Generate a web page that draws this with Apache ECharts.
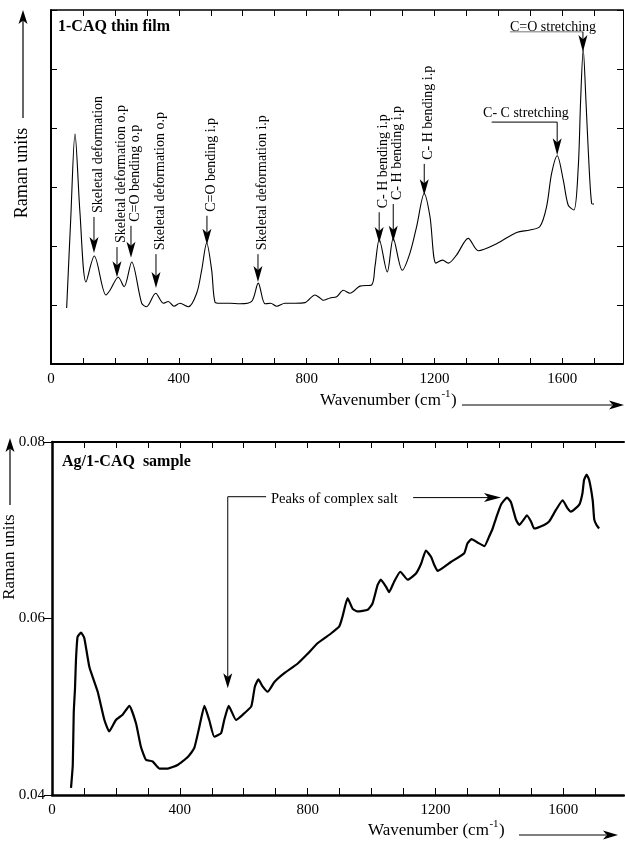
<!DOCTYPE html>
<html>
<head>
<meta charset="utf-8">
<script src="https://cdn.jsdelivr.net/npm/echarts@6/dist/echarts.min.js"></script>
<style>
  html, body { margin: 0; padding: 0; background: #fff; }
  #chart { width: 625px; height: 842px; }
</style>
</head>
<body>
<div id="chart"></div>
<script>
// 1-CAQ thin film Raman spectrum (arbitrary units)
const filmWavenumber = [49, 61.6, 75.1, 90.7, 109.5, 135.5, 172, 184.6, 210.6, 229, 252.5, 283.8, 299, 327.6,
  351.4, 367, 384.9, 403.6, 429.6, 455.9, 471.5, 487.2, 502.8, 513.1, 528.8, 560, 591.4, 628, 648.6, 669.6,
  687.4, 706.2, 732.2, 763.5, 794.7, 826, 841.7, 852, 873, 894, 914.6, 935.5, 966.8, 1003.4, 1013.8, 1027.2,
  1052.3, 1071, 1099.2, 1123.3, 1144.2, 1168, 1185.9, 1204.6, 1225.6, 1243.1, 1269.4, 1305.7, 1337, 1394.6,
  1457.1, 1498.7, 1530, 1551, 1566.6, 1584.2, 1603, 1618.6, 1636.4, 1650, 1657.4, 1665.5, 1674, 1681.2,
  1691.8, 1699];
const filmIntensity = [0.95, 2.44, 3.90, 2.56, 1.39, 1.83, 1.17, 1.25, 1.47, 1.31, 1.73, 1.03, 0.97, 1.20,
  1.03, 1.06, 0.98, 1.03, 0.97, 1.20, 1.59, 2.05, 1.59, 1.05, 1.03, 1.03, 1.02, 1.06, 1.37, 1.02,
  1.03, 0.98, 1.03, 1.03, 1.04, 1.17, 1.12, 1.08, 1.12, 1.14, 1.25, 1.20, 1.32, 1.34, 1.65, 2.11,
  1.56, 2.13, 1.59, 1.88, 2.33, 2.89, 2.50, 1.71, 1.76, 1.71, 1.85, 2.13, 1.92, 2.04,
  2.23, 2.27, 2.33, 2.67, 3.23, 3.53, 3.12, 2.69, 2.61, 3.34, 4.47, 5.33, 4.47, 3.63,
  2.72, 2.71];

// Ag/1-CAQ sample Raman spectrum
const agWavenumber = [59.5, 65, 68, 72, 75, 80, 91, 101, 117, 143, 164, 179, 200, 221, 242, 263, 278, 294,
  315, 336, 362, 393, 425, 445, 461, 477, 492, 508, 529, 539, 553, 576, 597, 623, 628, 635, 646, 659, 675,
  696, 727, 769, 800, 831, 873, 899, 909, 925, 941, 956, 988, 1003, 1019, 1029, 1045, 1055, 1071, 1090,
  1113, 1139, 1155, 1170, 1186, 1196, 1207, 1248, 1290, 1300, 1313, 1332, 1353, 1368, 1379, 1389, 1405,
  1424, 1436, 1452, 1462, 1478, 1486, 1499, 1509, 1540, 1556, 1577, 1598, 1613, 1624, 1650, 1660, 1665,
  1673, 1681, 1692, 1697, 1704, 1712];
const agIntensity = [0.0408, 0.0434, 0.0493, 0.0521, 0.0553, 0.0579, 0.0584, 0.0578, 0.0545, 0.0517, 0.0485,
  0.0472, 0.0485, 0.0491, 0.0501, 0.0481, 0.0455, 0.0440, 0.0438, 0.0430, 0.0430, 0.0434, 0.0443, 0.0453,
  0.0477, 0.0501, 0.0485, 0.0466, 0.0470, 0.0485, 0.0501, 0.0485, 0.0491, 0.0500, 0.0508, 0.0523, 0.0531,
  0.0523, 0.0517, 0.0528, 0.0538, 0.0549, 0.0560, 0.0572, 0.0583, 0.0591, 0.0602, 0.0623, 0.0611, 0.0608,
  0.0610, 0.0617, 0.0638, 0.0644, 0.0636, 0.0630, 0.0642, 0.0653, 0.0644, 0.0651, 0.0662, 0.0677, 0.0670,
  0.0661, 0.0654, 0.0664, 0.0674, 0.0685, 0.0690, 0.0686, 0.0682, 0.0693, 0.0702, 0.0713, 0.0729, 0.0737,
  0.0732, 0.0712, 0.0706, 0.0713, 0.0717, 0.0710, 0.0702, 0.0706, 0.0710, 0.0723, 0.0734, 0.0725, 0.0721,
  0.0729, 0.0742, 0.0757, 0.0763, 0.0757, 0.0734, 0.0712, 0.0706, 0.0702];

// Axis ticks and labels
const xLabelValues = [0, 400, 800, 1200, 1600];
const xTickValues = [0, 100, 200, 300, 400, 500, 600, 700, 800, 900, 1000, 1100, 1200, 1300, 1400, 1500, 1600, 1700];
const agYLabelValues = [0.04, 0.06, 0.08];

// Band assignments in the film spectrum
const filmBandWavenumber = [134.5, 206.5, 250.3, 328.5, 488, 647.7, 1027, 1071, 1168];
const filmBandTip = [1.88, 1.47, 1.80, 1.29, 2.02, 1.39, 2.05, 2.07, 2.86];
const filmBandTextStart = [2.56, 2.05, 2.41, 1.93, 2.58, 1.93, 2.64, 2.78, 3.46];
const filmBandLabel = ['Skeletal deformation', 'Skeletal deformation o.p', 'C=O bending o.p',
  'Skeletal deformation o.p', 'C=O bending i.p', 'Skeletal deformation i.p',
  'C- H bending i.p', 'C- H bending i.p', 'C- H bending i.p'];

// Stretching bands labelled horizontally
const stretchLabel = ['C- C stretching', 'C=O stretching'];
const stretchTextX = [1486, 1571];
const stretchTextY = [4.25, 5.71];
const stretchLeaderY = [4.10, 5.63];
const stretchLeaderStart = [1379, 1436];
const stretchTipX = [1584, 1664.6];
const stretchTipY = [3.54, 5.29];

// Complex salt call-out in the Ag sample
const saltLabel = 'Peaks of complex salt';
const saltLeftTip = [550, 0.0521];
const saltLeftTop = 0.0738;
const saltTextStart = 685;
const saltLeftLineEnd = 670;
const saltRightStart = 1130;
const saltRightTip = [1405, 0.0737];

const FONT = '"Liberation Serif", "Times New Roman", serif';

function zip(xs, ys) { return xs.map((x, i) => [x, ys[i]]); }

const X_MIN = 0, X_MAX = 1790;

function xAxisCfg(gridIndex, position, lineWidth, tickLen, showLabels) {
  return {
    type: 'value', gridIndex, position, min: X_MIN, max: X_MAX,
    axisLine: { show: true, onZero: false, lineStyle: { color: '#000', width: lineWidth } },
    axisTick: { show: true, inside: true, length: tickLen, customValues: xTickValues,
      lineStyle: { color: '#000', width: 1 } },
    axisLabel: showLabels ? { show: true, customValues: xLabelValues, color: '#000',
      fontFamily: FONT, fontSize: 15, margin: 8, formatter: v => String(v) } : { show: false },
    splitLine: { show: false }
  };
}

const option = {
  animation: false,
  backgroundColor: '#fff',
  grid: [
    { left: 51, top: 10, width: 572, height: 354 },
    { left: 52, top: 442, width: 572, height: 353 }
  ],
  xAxis: [
    xAxisCfg(0, 'bottom', 2, 6, true),
    xAxisCfg(0, 'top', 1.5, 6, false),
    xAxisCfg(1, 'bottom', 2.5, 7, true),
    xAxisCfg(1, 'top', 2, 6, false)
  ],
  yAxis: [
    { type: 'value', gridIndex: 0, position: 'left', min: 0, max: 6, interval: 1,
      axisLine: { show: true, onZero: false, lineStyle: { color: '#000', width: 2 } },
      axisTick: { show: true, inside: true, length: 6, lineStyle: { color: '#000' } },
      axisLabel: { show: false }, splitLine: { show: false } },
    { type: 'value', gridIndex: 0, position: 'right', min: 0, max: 6, interval: 1,
      axisLine: { show: true, onZero: false, lineStyle: { color: '#000', width: 1 } },
      axisTick: { show: true, inside: true, length: 6, lineStyle: { color: '#000' } },
      axisLabel: { show: false }, splitLine: { show: false } },
    { type: 'value', gridIndex: 1, position: 'left', min: 0.04, max: 0.08, interval: 0.02,
      axisLine: { show: true, onZero: false, lineStyle: { color: '#000', width: 2.5 } },
      axisTick: { show: true, inside: false, length: 7, lineStyle: { color: '#000' } },
      axisLabel: { show: true, color: '#000', fontFamily: FONT, fontSize: 15, margin: 7,
        customValues: agYLabelValues, formatter: v => v.toFixed(2) },
      splitLine: { show: false } },
    { type: 'value', gridIndex: 1, position: 'right', min: 0.04, max: 0.08, interval: 0.02,
      axisLine: { show: false },
      axisTick: { show: true, inside: true, length: 8, lineStyle: { color: '#000' } },
      axisLabel: { show: false }, splitLine: { show: false } }
  ],
  series: [
    { type: 'line', xAxisIndex: 0, yAxisIndex: 0, data: zip(filmWavenumber, filmIntensity),
      showSymbol: false, smooth: 0.3, lineStyle: { color: '#000', width: 1.1 }, silent: true },
    { type: 'line', xAxisIndex: 2, yAxisIndex: 2, data: zip(agWavenumber, agIntensity),
      showSymbol: false, smooth: 0.15, lineStyle: { color: '#000', width: 2.2 }, silent: true }
  ]
};

const chart = echarts.init(document.getElementById('chart'), null, { renderer: 'canvas' });
chart.setOption(option);

// ---- annotations and axis titles ----
const measureCtx = document.createElement('canvas').getContext('2d');
function textWidth(str, size, weight) {
  measureCtx.font = (weight || 'normal') + ' ' + size + 'px ' + FONT;
  return measureCtx.measureText(str).width;
}
function film(x, y) { return chart.convertToPixel({ xAxisIndex: 0, yAxisIndex: 0 }, [x, y]); }
function ag(x, y) { return chart.convertToPixel({ xAxisIndex: 2, yAxisIndex: 2 }, [x, y]); }

const g = [];
function line(x1, y1, x2, y2, w, color) {
  g.push({ type: 'line', silent: true, shape: { x1, y1, x2, y2 },
    style: { stroke: color || '#000', lineWidth: w || 1 } });
}
function head(tx, ty, dir, len, half) {
  // filled arrowhead with its tip at (tx, ty), pointing in direction dir
  let pts;
  if (dir === 'down') pts = [[tx, ty], [tx - half, ty - len], [tx, ty - len * 0.75], [tx + half, ty - len]];
  else if (dir === 'up') pts = [[tx, ty], [tx - half, ty + len], [tx, ty + len * 0.75], [tx + half, ty + len]];
  else pts = [[tx, ty], [tx - len, ty - half], [tx - len * 0.75, ty], [tx - len, ty + half]];
  g.push({ type: 'polygon', silent: true, shape: { points: pts }, style: { fill: '#000' } });
}
function text(str, x, y, opt) {
  opt = opt || {};
  g.push({ type: 'text', silent: true, x, y, rotation: opt.rotation || 0,
    style: { text: str, fill: '#000',
      font: (opt.weight || 'normal') + ' ' + (opt.size || 14) + 'px ' + FONT,
      align: opt.align || 'left', verticalAlign: opt.vAlign || 'middle',
      textAlign: opt.align || 'left', textVerticalAlign: opt.vAlign || 'middle' } });
}

// vertical band labels
filmBandWavenumber.forEach((wn, i) => {
  const tip = film(wn, filmBandTip[i]);
  const start = film(wn, filmBandTextStart[i]);
  line(tip[0], start[1] + 4, tip[0], tip[1] - 10, 1);
  head(tip[0], tip[1], 'down', 16, 4.5);
  text(filmBandLabel[i], tip[0] + 4, start[1], { rotation: Math.PI / 2, size: 14 });
});

// horizontal stretching labels
stretchLabel.forEach((lbl, i) => {
  const t = film(stretchTextX[i], stretchTextY[i]);
  text(lbl, t[0], t[1], { align: 'center', size: 14 });
  const ls = film(stretchLeaderStart[i], stretchLeaderY[i]);
  const tip = film(stretchTipX[i], stretchTipY[i]);
  line(ls[0], ls[1], tip[0], ls[1], 1, i === 1 ? '#777' : '#000');
  line(tip[0], ls[1], tip[0], tip[1] - 10, 1);
  head(tip[0], tip[1], 'down', 17, 4.5);
});

// complex salt call-out
{
  const lt = ag(saltLeftTip[0], saltLeftTip[1]);
  const top = ag(saltLeftTip[0], saltLeftTop);
  const lineEnd = ag(saltLeftLineEnd, saltLeftTop);
  line(lt[0], top[1], lt[0], lt[1] - 10, 1);
  line(lt[0], top[1], lineEnd[0], top[1], 1);
  head(lt[0], lt[1], 'down', 15, 4.5);
  const ts = ag(saltTextStart, saltLeftTop);
  text(saltLabel, ts[0], ts[1] + 2, { size: 14.5 });
  const rs = ag(saltRightStart, saltRightTip[1]);
  const rt = ag(saltRightTip[0], saltRightTip[1]);
  line(rs[0], rt[1], rt[0] - 12, rt[1], 1);
  head(rt[0], rt[1], 'right', 17, 4.5);
}

// panel titles
text('1-CAQ thin film', 58, 27, { weight: 'bold', size: 16 });
text('Ag/1-CAQ  sample', 62, 462, { weight: 'bold', size: 16 });

// axis titles with direction arrows
text('Raman units', 22, 173, { rotation: Math.PI / 2, align: 'center', size: 18 });
line(23, 118, 23, 20, 1.2);
head(23, 10, 'up', 14, 4.5);

text('Raman units', 10, 557, { rotation: Math.PI / 2, align: 'center', size: 17 });
line(10, 505, 10, 448, 1.2);
head(10, 438, 'up', 14, 4.5);

function xTitle(x, y, arrowStart, arrowTip) {
  const base = 'Wavenumber (cm';
  const w1 = textWidth(base, 17);
  const w2 = textWidth('-1', 11);
  text(base, x, y, { size: 17 });
  text('-1', x + w1 + 0.5, y - 7, { size: 11 });
  text(')', x + w1 + w2 + 1, y, { size: 17 });
  line(arrowStart, y + 4, arrowTip - 12, y + 4, 1);
  head(arrowTip, y + 4, 'right', 15, 4.5);
}
xTitle(320, 401, 462, 624);
xTitle(368, 831, 519, 618);

chart.setOption({ graphic: { elements: g } });
</script>
</body>
</html>
